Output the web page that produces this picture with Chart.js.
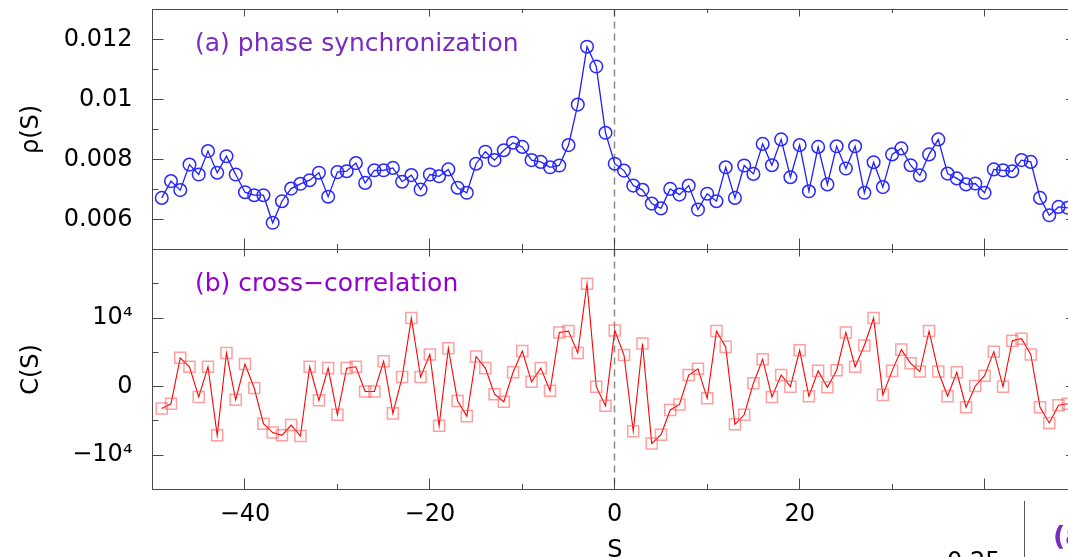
<!DOCTYPE html>
<html>
<head>
<meta charset="utf-8">
<script src="https://cdn.jsdelivr.net/npm/chart.js@4.4.1/dist/chart.umd.min.js"></script>
<style>
  html, body { margin: 0; padding: 0; background: #fff; overflow: hidden; }
  #wrap { position: relative; width: 1068px; height: 557px; overflow: hidden; }
  .box { position: absolute; left: 0; }
  #topBox { top: 0; }
  #botBox { top: 240px; }
  .extra { position: absolute; font-family: 'DejaVu Sans', sans-serif; white-space: nowrap; }
  #vline { position: absolute; left: 1024px; top: 501px; width: 0; height: 70px; border-left: 1px solid #555; }
</style>
</head>
<body>
<div id="wrap">
  <div class="box" id="topBox"><canvas id="chartTop" width="1100" height="260"></canvas></div>
  <div class="box" id="botBox"><canvas id="chartBot" width="1100" height="340"></canvas></div>
  <div id="vline"></div>
  <div class="extra" style="left:947px; top:547px; font-size:24px; color:#000;">0.25</div>
  <div class="extra" style="left:1053px; top:520px; font-size:27px; font-weight:bold; color:#7a2cc0;">(a</div>
</div>
<script>
// lag S
const lags = [
  -49, -48, -47, -46, -45, -44, -43, -42, -41, -40,
  -39, -38, -37, -36, -35, -34, -33, -32, -31, -30,
  -29, -28, -27, -26, -25, -24, -23, -22, -21, -20,
  -19, -18, -17, -16, -15, -14, -13, -12, -11, -10,
  -9, -8, -7, -6, -5, -4, -3, -2, -1, 0,
  1, 2, 3, 4, 5, 6, 7, 8, 9, 10,
  11, 12, 13, 14, 15, 16, 17, 18, 19, 20,
  21, 22, 23, 24, 25, 26, 27, 28, 29, 30,
  31, 32, 33, 34, 35, 36, 37, 38, 39, 40,
  41, 42, 43, 44, 45, 46, 47, 48, 49
];

// (a) phase synchronization rho(S)
const rhoValues = [
  0.00672, 0.00728, 0.00698, 0.00783, 0.00750, 0.00828, 0.00756, 0.00811, 0.00750, 0.00691,
  0.00681, 0.00681, 0.00589, 0.00661, 0.00703, 0.00719, 0.00731, 0.00756, 0.00676, 0.00758,
  0.00761, 0.00788, 0.00722, 0.00764, 0.00764, 0.00772, 0.00726, 0.00748, 0.00700, 0.00750,
  0.00744, 0.00767, 0.00706, 0.00689, 0.00786, 0.00826, 0.00798, 0.00831, 0.00856, 0.00842,
  0.00798, 0.00792, 0.00774, 0.00780, 0.00848, 0.00983, 0.01176, 0.01110, 0.00889, 0.00786,
  0.00763, 0.00713, 0.00699, 0.00653, 0.00637, 0.00702, 0.00683, 0.00713, 0.00633, 0.00686,
  0.00661, 0.00774, 0.00672, 0.00780, 0.00752, 0.00852, 0.00781, 0.00867, 0.00741, 0.00848,
  0.00694, 0.00842, 0.00717, 0.00844, 0.00770, 0.00844, 0.00689, 0.00791, 0.00708, 0.00817,
  0.00837, 0.00781, 0.00747, 0.00817, 0.00867, 0.00753, 0.00737, 0.00717, 0.00720, 0.00689,
  0.00767, 0.00764, 0.00761, 0.00798, 0.00792, 0.00672, 0.00614, 0.00642, 0.00639
];

// (b) cross-correlation C(S)
const corrValues = [
  -3200, -2500, 4200, 2900, -1500, 2900, -7100, 4900, -1900, 3300,
  -200, -5400, -6700, -7100, -5600, -7200, 2900, -2000, 2700, -4100,
  2700, 2900, -700, -700, 3700, -3900, 1400, 10000, 1400, 4700,
  -5700, 5600, -2100, -4300, 4400, 2700, -1100, -2200, 2100, 5200,
  700, 2700, -600, 7900, 8100, 4900, 15000, 0, -2800, 8200,
  4600, -6500, 6300, -8300, -7000, -3400, -2600, 1700, 2600, -1700,
  8100, 5800, -5500, -4100, 500, 4000, -1500, 1700, 0, 5300,
  -1400, 2300, -100, 2400, 7900, 2900, 6000, 10000, -1200, 2300,
  5400, 3400, 2200, 8100, 2200, -1400, 2100, -3000, 100, 1600,
  5100, 0, 6700, 7000, 4700, -3000, -5300, -2700, -2500
];

// axes (the "40" label is hidden under the neighbouring panel in the original)
const xTicks = [-50, -40, -30, -20, -10, 0, 10, 20, 30, 40, 50];
const xTickLabels = ['', '−40', '', '−20', '', '0', '', '20', '', '', ''];
const rhoTicks = [0.005, 0.006, 0.007, 0.008, 0.009, 0.010, 0.011, 0.012, 0.013];
const rhoTickLabels = ['', '0.006', '', '0.008', '', '0.01', '', '0.012', ''];
const corrTicks = [-15000, -10000, -5000, 0, 5000, 10000, 15000, 20000];
const corrTickLabels = ['', '−10⁴', '', '0', '', '10⁴', '', ''];

const axisColor = '#4a4a4a';
const fontFamily = "'DejaVu Sans', sans-serif";

Chart.defaults.font.family = fontFamily;
Chart.defaults.color = '#000';

// frame, inward ticks, dashed zero line and panel label
const panelPlugin = {
  id: 'panel',
  beforeDatasetsDraw(chart) {
    const { ctx, chartArea: a, scales } = chart;
    const x0 = Math.floor(scales.x.getPixelForValue(0)) + 0.5;
    ctx.save();
    ctx.strokeStyle = '#8a8a8a';
    ctx.lineWidth = 1.5;
    ctx.setLineDash([7, 5]);
    ctx.beginPath();
    ctx.moveTo(x0, a.top);
    ctx.lineTo(x0, a.bottom);
    ctx.stroke();
    ctx.restore();
  },
  afterDatasetsDraw(chart, args, opts) {
    const { ctx, chartArea: a, scales } = chart;
    ctx.save();
    ctx.strokeStyle = axisColor;
    ctx.lineWidth = 1;
    ctx.strokeRect(a.left, a.top, a.right - a.left, a.bottom - a.top);
    ctx.beginPath();
    xTicks.forEach(v => {
      const px = Math.floor(scales.x.getPixelForValue(v)) + 0.5;
      const major = Math.abs(v) % 20 === 0;
      const lb = major ? opts.bottomTick : opts.bottomTick / 2;
      const lt = major ? opts.topTick : opts.topTick / 2;
      ctx.moveTo(px, a.bottom);
      ctx.lineTo(px, a.bottom - lb);
      ctx.moveTo(px, a.top);
      ctx.lineTo(px, a.top + lt);
    });
    opts.yTicks.forEach((v, i) => {
      const py = Math.floor(scales.y.getPixelForValue(v)) + 0.5;
      const len = opts.yLabels[i] !== '' ? 11 : 6;
      ctx.moveTo(a.left, py);
      ctx.lineTo(a.left + len, py);
      ctx.moveTo(a.right, py);
      ctx.lineTo(a.right - len, py);
    });
    ctx.stroke();
    ctx.restore();
  },
  afterDraw(chart, args, opts) {
    const { ctx } = chart;
    ctx.save();
    ctx.font = '25px ' + fontFamily;
    ctx.fillStyle = opts.labelColor;
    ctx.textBaseline = 'alphabetic';
    ctx.fillText(opts.label, 195, opts.labelY);
    ctx.restore();
  }
};

function makeYScale(min, max, ticks, labels, title) {
  return {
    min: min,
    max: max,
    afterFit(scale) {
      scale.width = 152.5;
      scale.paddingTop = 0;
      scale.paddingBottom = 0;
    },
    afterBuildTicks(scale) { scale.ticks = ticks.map(v => ({ value: v })); },
    grid: { display: false, drawTicks: false },
    border: { display: false },
    ticks: {
      autoSkip: false,
      padding: 20,
      font: { size: 24 },
      callback: (v, i) => labels[i]
    },
    title: {
      display: true,
      text: title,
      font: { size: 24 },
      padding: { top: 17, bottom: 0 }
    }
  };
}

const topData = lags.map((s, i) => ({ x: s, y: rhoValues[i] }));
const botData = lags.map((s, i) => ({ x: s, y: corrValues[i] }));

new Chart(document.getElementById('chartTop'), {
  type: 'line',
  data: {
    datasets: [{
      data: topData,
      borderColor: 'rgb(30,30,255)',
      borderWidth: 1.3,
      pointStyle: 'circle',
      pointRadius: 6.3,
      pointBorderWidth: 1.5,
      pointBorderColor: 'rgb(40,40,255)',
      pointBackgroundColor: 'rgba(0,0,0,0)',
      tension: 0
    }]
  },
  options: {
    responsive: false,
    animation: false,
    layout: { padding: { top: 9.5, bottom: 10.5, left: 0, right: 23 } },
    plugins: {
      legend: { display: false },
      tooltip: { enabled: false },
      panel: {
        label: '(a) phase synchronization',
        labelColor: '#7a2cc0',
        labelY: 51,
        topTick: 7,
        bottomTick: 11,
        yTicks: rhoTicks,
        yLabels: rhoTickLabels
      }
    },
    scales: {
      x: { type: 'linear', display: false, min: -50, max: 50 },
      y: makeYScale(0.005, 0.013, rhoTicks, rhoTickLabels, 'ρ(S)')
    }
  },
  plugins: [panelPlugin]
});

new Chart(document.getElementById('chartBot'), {
  type: 'line',
  data: {
    datasets: [{
      data: botData,
      borderColor: 'rgb(255,0,0)',
      borderWidth: 1.1,
      pointStyle: 'rect',
      pointRadius: 7.8,
      pointBorderWidth: 1.5,
      pointBorderColor: 'rgba(255,80,80,0.55)',
      pointBackgroundColor: 'rgba(0,0,0,0)',
      tension: 0
    }]
  },
  options: {
    responsive: false,
    animation: false,
    layout: { padding: { top: 9.5, bottom: 0, left: 0, right: 23 } },
    plugins: {
      legend: { display: false },
      tooltip: { enabled: false },
      panel: {
        label: '(b) cross−correlation',
        labelColor: '#9400d3',
        labelY: 51,
        topTick: 7,
        bottomTick: 11,
        yTicks: corrTicks,
        yLabels: corrTickLabels
      }
    },
    scales: {
      x: {
        type: 'linear',
        min: -50,
        max: 50,
        afterFit(scale) {
          scale.height = 90.5;
          scale.paddingLeft = 0;
          scale.paddingRight = 0;
        },
        afterBuildTicks(scale) { scale.ticks = xTicks.map(v => ({ value: v })); },
        grid: { display: false, drawTicks: false },
        border: { display: false },
        ticks: {
          autoSkip: false,
          maxRotation: 0,
          padding: 11,
          font: { size: 24 },
          callback: (v, i) => xTickLabels[i]
        },
        title: {
          display: true,
          text: 'S',
          font: { size: 24 },
          padding: { top: 0, bottom: 15 }
        }
      },
      y: makeYScale(-15000, 20000, corrTicks, corrTickLabels, 'C(S)')
    }
  },
  plugins: [panelPlugin]
});
</script>
</body>
</html>
